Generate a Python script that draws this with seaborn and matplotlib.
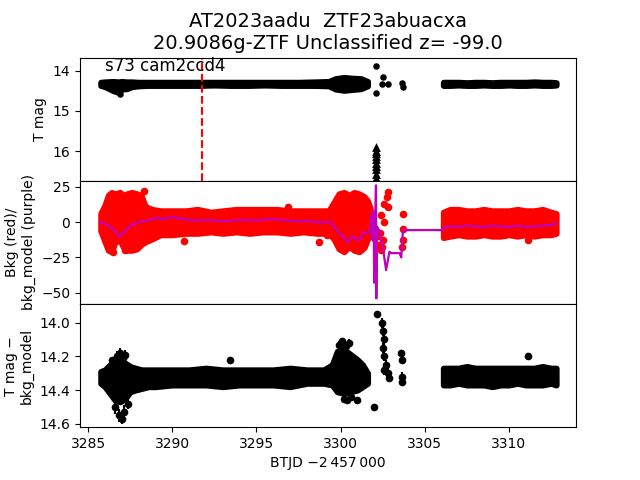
import matplotlib
matplotlib.use("Agg")
import matplotlib.pyplot as plt
import seaborn as sns
import numpy as np
import pandas as pd

# ---------------- data ----------------
title_text = "AT2023aadu  ZTF23abuacxa\n20.9086g-ZTF Unclassified z= -99.0"
sector_label = "s73 cam2ccd4"
event_time = 3291.75

# Top panel: T mag band envelopes (segment 1 and 2)
mag_t1 = [3285.75, 3286.0, 3286.5, 3286.8, 3287.0, 3287.3, 3287.6, 3288.0, 3288.5, 3289.5,
          3290.5, 3291.5, 3292.5, 3293.5, 3294.5, 3295.5, 3296.5, 3297.5, 3298.5,
          3299.3, 3299.7, 3300.2, 3300.7, 3301.2, 3301.6]
mag_hi1 = [14.29, 14.28, 14.27, 14.28, 14.27, 14.28, 14.28, 14.29, 14.29, 14.29,
           14.29, 14.29, 14.29, 14.29, 14.29, 14.29, 14.29, 14.29, 14.28,
           14.27, 14.20, 14.17, 14.19, 14.20, 14.27]
mag_lo1 = [14.37, 14.40, 14.50, 14.54, 14.46, 14.45, 14.40, 14.38, 14.37, 14.37,
           14.37, 14.37, 14.36, 14.37, 14.37, 14.36, 14.37, 14.37, 14.37,
           14.38, 14.46, 14.49, 14.47, 14.45, 14.38]
mag_t2 = [3306.1, 3306.5, 3307.0, 3307.5, 3308.0, 3308.5, 3309.0, 3309.5, 3310.0,
          3310.5, 3311.0, 3311.5, 3312.0, 3312.5, 3312.8]
mag_hi2 = [14.29, 14.29, 14.29, 14.30, 14.29, 14.29, 14.30, 14.29, 14.29,
           14.29, 14.29, 14.28, 14.29, 14.29, 14.30]
mag_lo2 = [14.37, 14.37, 14.36, 14.37, 14.37, 14.36, 14.37, 14.37, 14.36,
           14.37, 14.37, 14.36, 14.37, 14.37, 14.36]
mag_out_t = [3302.1, 3302.1, 3302.5, 3302.45, 3302.8, 3303.65, 3303.68, 3286.9]
mag_out_v = [13.90, 14.56, 14.17, 14.34, 14.34, 14.32, 14.41, 14.58]
lim_t = [3302.1] * 10
lim_v = [15.90, 15.98, 16.05, 16.12, 16.20, 16.28, 16.36, 16.45, 16.55, 16.65]

# Middle panel: background (red) envelopes
bkg_t1 = [3285.75, 3286.0, 3286.2, 3286.4, 3286.6, 3286.9, 3287.1, 3287.3, 3287.6, 3287.9,
          3288.15, 3288.4, 3288.8, 3289.3, 3290.0, 3290.8, 3291.5, 3292.3, 3293.0, 3293.8,
          3294.6, 3295.4, 3296.2, 3297.0, 3297.8, 3298.6, 3299.3, 3299.6, 3299.9, 3300.2,
          3300.5, 3300.8, 3301.1, 3301.4, 3301.6, 3301.75]
bkg_hi1 = [6, 12, 19, 21, 20, 21, 19, 20, 21, 20,
           19, 11, 9, 8, 8, 8, 9, 7, 8, 9,
           9, 9, 9, 8, 8, 8, 8, 14, 20, 21,
           19, 21, 20, 18, 15, 10]
bkg_lo1 = [-6, -14, -20, -21, -14, -13, -18, -20, -20, -19,
           -16, -14, -12, -9, -9, -8, -8, -7, -8, -7,
           -8, -7, -7, -8, -7, -8, -8, -12, -19, -21,
           -17, -20, -21, -18, -12, -8]
bkg_t2 = [3306.1, 3306.5, 3307.0, 3307.5, 3308.0, 3308.5, 3309.0, 3309.5, 3310.0,
          3310.5, 3311.0, 3311.5, 3312.0, 3312.5, 3312.8]
bkg_hi2 = [7, 9, 9, 8, 8, 9, 8, 8, 8, 9, 8, 8, 9, 7, 6]
bkg_lo2 = [-11, -10, -9, -10, -10, -9, -10, -10, -9, -10, -9, -10, -9, -9, -8]
bkg_out_t = [3288.3, 3290.7, 3287.2, 3286.5, 3296.9, 3298.7, 3299.2,
             3302.8, 3302.75, 3302.6, 3302.8, 3302.4, 3302.55, 3302.5, 3302.45,
             3303.7, 3303.7, 3303.7, 3303.65, 3311.1,
             3302.2, 3302.3, 3302.4, 3302.35]
bkg_out_v = [22, -13.5, -20, -21, 11, -14, -9,
             21, 18, 13, 11, 5, 0, -13, -18,
             6, -5, -13, -18, -12.5,
             -10, -16, -20, -8]

# Middle panel: background model (purple)
mod_t = [3285.7, 3286.0, 3286.4, 3286.7, 3286.9, 3287.2, 3287.6, 3288.0, 3288.5, 3289.1,
         3289.5, 3290.0, 3290.5, 3291.0, 3291.5, 3292.0, 3292.5, 3293.0, 3293.5, 3294.0,
         3294.5, 3295.0, 3295.5, 3296.0, 3296.5, 3297.0, 3297.5, 3298.0, 3298.5, 3299.0,
         3299.4, 3299.8, 3300.1, 3300.4, 3300.7, 3300.9, 3301.1, 3301.4, 3301.6, 3301.75,
         3301.85, 3301.9, 3301.95, 3302.0, 3302.05, 3302.1, 3302.12, 3302.15, 3302.3, 3302.5,
         3302.7, 3302.9, 3303.0, 3303.5, 3303.6, 3303.7, 3306.1, 3306.2, 3306.6, 3307.0,
         3307.5, 3308.0, 3308.5, 3309.0, 3309.5, 3310.0, 3310.5, 3311.0, 3311.5, 3312.0,
         3312.5, 3312.8]
mod_v = [0, -1, -4, -8, -10.5, -6, -2, 0, 1, 3,
         2, 3.5, 2.5, 1.5, 1, 1.5, 1, 0.5, 1, 1.5,
         1.5, 1, 2, 2, 1.5, 1, 0.5, 1, 0, 0,
         0, -6, -10, -14, -10, -12, -13, -7, -8, -5.7,
         5, -13, 8, -43, 0, 26, -54, -3, -6, -17,
         -34, -21, -22, -22, -25, -5.7, -5.7, -3.5, -3, -3.5,
         -2.5, -3, -3.5, -2.5, -3, -3.5, -2.5, -3.5, -3, -2.5,
         -2, -1]

# Bottom panel: T mag - bkg_model envelopes
dif_t1 = [3285.75, 3286.0, 3286.3, 3286.6, 3286.9, 3287.2, 3287.5, 3287.8, 3288.2, 3288.6,
          3289.0, 3290.0, 3291.0, 3292.0, 3293.0, 3294.0, 3295.0, 3296.0, 3297.0, 3298.0,
          3299.0, 3299.5, 3299.8, 3300.2, 3300.6, 3301.0, 3301.3, 3301.6]
dif_hi1 = [14.29, 14.28, 14.25, 14.24, 14.23, 14.24, 14.26, 14.27, 14.28, 14.28,
           14.28, 14.28, 14.28, 14.27, 14.28, 14.28, 14.28, 14.28, 14.27, 14.28,
           14.28, 14.25, 14.17, 14.16, 14.19, 14.22, 14.25, 14.30]
dif_lo1 = [14.36, 14.38, 14.42, 14.46, 14.47, 14.45, 14.41, 14.40, 14.39, 14.38,
           14.38, 14.37, 14.37, 14.37, 14.38, 14.37, 14.37, 14.37, 14.38, 14.36,
           14.36, 14.37, 14.41, 14.42, 14.41, 14.40, 14.38, 14.36]
dif_t2 = [3306.1, 3306.5, 3307.0, 3307.5, 3308.0, 3308.5, 3309.0, 3309.5, 3310.0,
          3310.5, 3311.0, 3311.5, 3312.0, 3312.5, 3312.8]
dif_hi2 = [14.27, 14.27, 14.27, 14.26, 14.27, 14.27, 14.27, 14.27, 14.27,
           14.27, 14.27, 14.27, 14.26, 14.27, 14.27]
dif_lo2 = [14.37, 14.37, 14.36, 14.37, 14.37, 14.37, 14.38, 14.37, 14.37,
           14.36, 14.37, 14.37, 14.37, 14.36, 14.37]
dif_out_t = [3286.4, 3293.4, 3311.1, 3302.16, 3302.45, 3302.5, 3302.55, 3302.5, 3302.6,
             3302.7, 3302.8, 3302.85, 3302.6, 3303.6, 3303.62, 3303.65, 3303.66,
             3302.0, 3301.0,
             3286.7, 3286.9, 3287.05, 3287.2, 3286.6, 3286.85, 3287.0, 3287.15, 3287.4,
             3299.9, 3300.1, 3300.3, 3300.5, 3300.2, 3300.4, 3300.6]
dif_out_v = [14.22, 14.22, 14.20, 13.95, 14.00, 14.05, 14.10, 14.15, 14.20,
             14.25, 14.30, 14.33, 14.28, 14.18, 14.22, 14.32, 14.35,
             14.50, 14.46,
             14.20, 14.18, 14.21, 14.19, 14.50, 14.55, 14.57, 14.53, 14.48,
             14.13, 14.11, 14.14, 14.12, 14.45, 14.46, 14.44]
dif_out_e = [0.01, 0.01, 0.01, 0.01, 0.03, 0.03, 0.03, 0.03, 0.03,
             0.03, 0.03, 0.02, 0.03, 0.02, 0.02, 0.03, 0.02,
             0.02, 0.02,
             0.03, 0.03, 0.03, 0.03, 0.04, 0.04, 0.03, 0.04, 0.03,
             0.02, 0.02, 0.02, 0.02, 0.02, 0.02, 0.02]

# ---------------- figure ----------------
fig, axes = plt.subplots(3, 1, figsize=(6.4, 4.8), dpi=100, sharex=True)
fig.subplots_adjust(hspace=0, left=0.125, right=0.9, top=0.88, bottom=0.11)
ax1, ax2, ax3 = axes
S = 22


def band(ax, t, lo, hi, color):
    # dense cloud of points: filled envelope, stroked by one marker radius
    pc = ax.fill_between(t, lo, hi, facecolor=color, edgecolor=color, linewidth=4.3)
    pc.set_joinstyle("round")
    pc.set_capstyle("round")


# top
band(ax1, mag_t1, mag_lo1, mag_hi1, "black")
band(ax1, mag_t2, mag_lo2, mag_hi2, "black")
sns.scatterplot(x=mag_out_t, y=mag_out_v, ax=ax1, color="black", s=S, linewidth=0)
sns.scatterplot(x=lim_t, y=lim_v, ax=ax1, color="black", marker="^", s=40, linewidth=0)
ax1.axvline(event_time, color="red", linestyle="--", linewidth=1.5)
ax1.set_ylim(16.73, 13.68)
ax1.set_yticks([14, 15, 16])
ax1.set_ylabel("T mag")
ax1.text(3286.0, 13.88, sector_label, fontsize=12, va="center")
ax1.set_title(title_text, fontsize=14)

# middle
band(ax2, bkg_t1, bkg_lo1, bkg_hi1, "red")
band(ax2, bkg_t2, bkg_lo2, bkg_hi2, "red")
sns.scatterplot(x=bkg_out_t, y=bkg_out_v, ax=ax2, color="red", s=30, linewidth=0)
sns.lineplot(x=mod_t, y=mod_v, ax=ax2, color="#bf00bf", linewidth=1.6,
             sort=False, estimator=None)
ax2.set_ylim(-58, 29.2)
ax2.set_yticks([25, 0, -25, -50])
ax2.set_ylabel("Bkg (red)/\nbkg_model (purple)")

# bottom
band(ax3, dif_t1, dif_lo1, dif_hi1, "black")
band(ax3, dif_t2, dif_lo2, dif_hi2, "black")
ax3.errorbar(dif_out_t, dif_out_v, yerr=dif_out_e, fmt="o", color="black",
             markersize=4.5, elinewidth=1.5)
ax3.set_ylim(14.62, 13.89)
ax3.set_yticks([14.0, 14.2, 14.4, 14.6])
ax3.set_ylabel("T mag \u2212\nbkg_model")
ax3.set_xlim(3284.52, 3313.98)
ax3.set_xticks([3285, 3290, 3295, 3300, 3305, 3310])
ax3.set_xlabel("BTJD \u22122\u2009457\u2009000")

for ax in axes:
    legend = ax.get_legend()
    if legend is not None:
        legend.remove()

fig.savefig("out.png", dpi=100)
